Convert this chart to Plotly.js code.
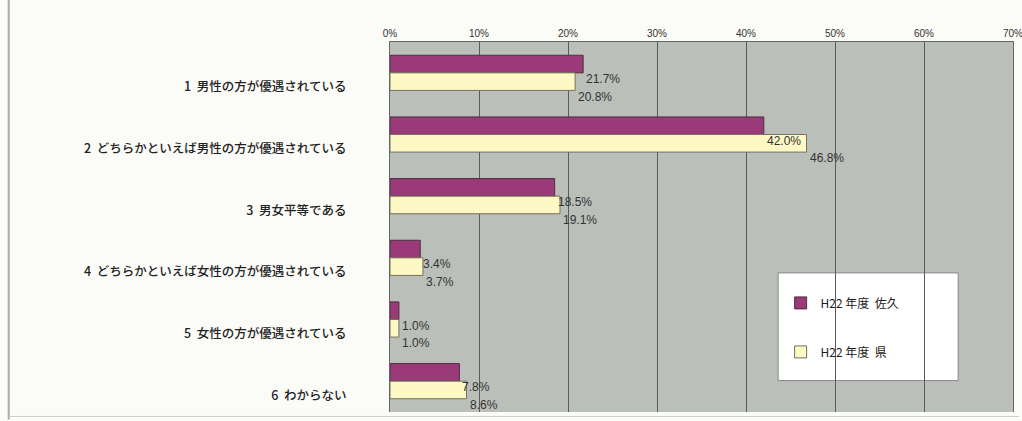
<!DOCTYPE html>
<html><head><meta charset="utf-8">
<script src="https://cdn.plot.ly/plotly-3.0.1.min.js"></script>
<style>body{margin:0;background:#fbfbf8}</style>
</head><body>
<div id="chart" style="width:1022px;height:421px"></div>
<script>
const categories = [
  "1  男性の方が優遇されている",
  "2  どちらかといえば男性の方が優遇されている",
  "3  男女平等である",
  "4  どちらかといえば女性の方が優遇されている",
  "5  女性の方が優遇されている",
  "6  わからない"
];
const seriesNames = ["H22 年度  佐久", "H22 年度  県"];
const sakuValues = [21.7, 42.0, 18.5, 3.4, 1.0, 7.8];
const kenValues  = [20.8, 46.8, 19.1, 3.7, 1.0, 8.6];
const xTickVals = [0, 10, 20, 30, 40, 50, 60, 70];
const xTickText = ["0%", "10%", "20%", "30%", "40%", "50%", "60%", "70%"];

const GAP = 0.43;
const half = (1 - GAP) / 4;  // offset of each bar centre from category centre

const traces = [
  {type:'bar', orientation:'h', name:seriesNames[0], y:categories, x:sakuValues,
   marker:{color:'#9a3a78', line:{color:'#4a3040', width:1}}, legendgroup:'a', hoverinfo:'x'},
  {type:'bar', orientation:'h', name:seriesNames[1], y:categories, x:kenValues,
   marker:{color:'#fdf8c4', line:{color:'#777060', width:1}}, legendgroup:'b', hoverinfo:'x'}
];

const annotations = [];
[sakuValues, kenValues].forEach((vals, s) => {
  vals.forEach((v, i) => {
    annotations.push({
      x: v, y: i + (s === 0 ? -half : half), xref:'x', yref:'y',
      text: v.toFixed(1) + '%', showarrow:false, xanchor:'left', yanchor:'middle',
      xshift: 1, yshift: -15,
      font:{family:'Liberation Sans, Arial', size:12, color:'#333'}
    });
  });
});

const layout = {
  width:1022, height:421,
  margin:{l:390, r:9, t:42, b:9},
  paper_bgcolor:'#fbfbf8', plot_bgcolor:'#babfb9',
  barmode:'group', bargap:GAP, bargroupgap:0,
  showlegend:true,
  legend:{x:0.627, y:0.334, xanchor:'left', yanchor:'top', bgcolor:'rgba(0,0,0,0)',
          borderwidth:0, traceorder:'grouped', tracegroupgap:30,
          font:{family:'Noto Sans CJK JP', size:12, color:'#222'}},
  xaxis:{side:'top', range:[0,70], tickvals:xTickVals, ticktext:xTickText,
         showgrid:true, gridcolor:'#5a5a5a', gridwidth:1, zeroline:false,
         showline:true, linecolor:'#666', linewidth:1, ticks:'', ticklabeloverflow:'allow',
         tickfont:{family:'Liberation Sans, Arial', size:10, color:'#333'}, fixedrange:true},
  yaxis:{type:'category', range:[5.5,-0.5], showgrid:false, zeroline:false,
         showline:true, mirror:true, linecolor:'#666', linewidth:1, ticks:'',
         ticklabelstandoff:40, ticklabelshift:-14,
         tickfont:{family:'Noto Sans CJK JP', size:12.5, color:'#222', weight:500}, fixedrange:true},
  annotations: annotations,
  shapes:[
    {type:'rect', xref:'paper', yref:'paper', x0:0.623, x1:0.912, y0:0.085, y1:0.376,
     fillcolor:'#ffffff', line:{color:'#888', width:1}, layer:'below'},
    {type:'line', xref:'paper', yref:'paper', x0:-0.612, x1:-0.612, y0:-0.02, y1:1.12,
     line:{color:'#aaa', width:2}},
    {type:'line', xref:'paper', yref:'paper', x0:-0.612, x1:1.01, y0:-0.012, y1:-0.012,
     line:{color:'#ccc', width:1}}
  ]
};

Plotly.newPlot('chart', traces, layout, {displayModeBar:false, staticPlot:true});
</script>
</body></html>
